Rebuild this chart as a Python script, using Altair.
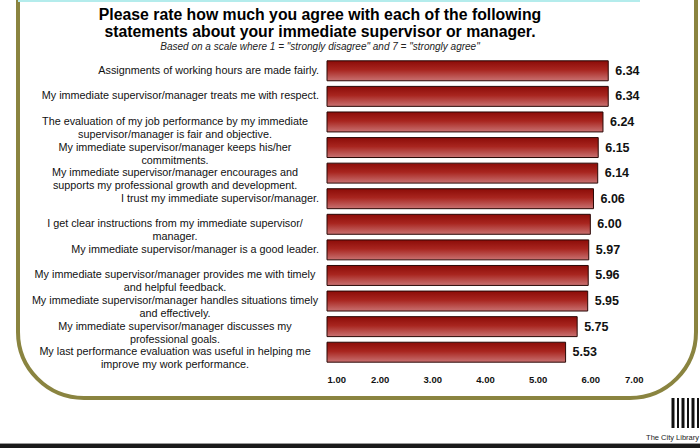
import altair as alt
import pandas as pd

labels = [
    "Assignments of working hours are made fairly.",
    "My immediate supervisor/manager treats me with respect.",
    "The evaluation of my job performance by my immediate|supervisor/manager is fair and objective.",
    "My immediate supervisor/manager keeps his/her|commitments.",
    "My immediate supervisor/manager encourages and|supports my professional growth and development.",
    "I trust my immediate supervisor/manager.",
    "I get clear instructions from my immediate supervisor/|manager.",
    "My immediate supervisor/manager is a good leader.",
    "My immediate supervisor/manager provides me with timely|and helpful feedback.",
    "My immediate supervisor/manager handles situations timely|and effectively.",
    "My immediate supervisor/manager discusses my|professional goals.",
    "My last performance evaluation was useful in helping me|improve my work performance.",
]
values = [6.34, 6.34, 6.24, 6.15, 6.14, 6.06, 6.00, 5.97, 5.96, 5.95, 5.75, 5.53]
tick_values = [1, 2, 3, 4, 5, 6, 7]

title_lines = [
    "Please rate how much you agree with each of the following",
    "statements about your immediate supervisor or manager.",
]
subtitle = 'Based on a scale where 1 = "strongly disagree" and 7 = "strongly agree"'
logo_text = "The City Library"

df = pd.DataFrame({"label": labels, "value": values})
df["multi"] = df["label"].str.contains("|", regex=False)
one = pd.DataFrame({"a": [0]})

FONT = "Liberation Sans"
OLIVE = "#8a8440"

yenc = alt.Y("label:N", sort=labels, axis=None,
             scale=alt.Scale(paddingInner=0.22, paddingOuter=0.11))
xscale = alt.Scale(domain=[1, 7], nice=False, zero=False)

grad = alt.LinearGradient(
    gradient="linear", x1=0, y1=0, x2=0, y2=1,
    stops=[alt.GradientStop(color="#8c0c08", offset=0),
           alt.GradientStop(color="#a8251f", offset=0.45),
           alt.GradientStop(color="#c97272", offset=1)],
)

base = alt.Chart(df)

bars = base.mark_bar(color=grad, stroke="#2a0806", strokeWidth=1).encode(
    x=alt.X("value:Q", scale=xscale,
            axis=alt.Axis(values=tick_values, format=".2f", grid=False, ticks=False,
                          domain=False, labelFont=FONT, labelFontSize=9.5,
                          labelFontWeight="bold", labelColor="#111",
                          labelPadding=9, title=None)),
    x2=alt.datum(1),
    y=yenc,
)

vals = base.mark_text(align="left", baseline="middle", dx=7, font=FONT,
                      fontSize=12.5, fontWeight="bold", color="#111").encode(
    x=alt.X("value:Q", scale=xscale), y=yenc, text=alt.Text("value:Q", format=".2f"))

single = base.transform_filter("!datum.multi").mark_text(
    align="right", baseline="middle", font=FONT, fontSize=10.8, color="#111"
).encode(x=alt.value(-8), y=yenc, text="label:N")

multi = base.transform_filter("datum.multi").mark_text(
    align="center", baseline="middle", font=FONT, fontSize=10.8, color="#111",
    lineBreak="|", lineHeight=13
).encode(x=alt.value(-152), y=yenc, text="label:N")

oc = alt.Chart(one)
t1 = oc.mark_text(text=title_lines[0], font=FONT, fontSize=15.8, fontWeight="bold",
                  align="center", baseline="middle", color="#000").encode(
    x=alt.value(-7), y=alt.value(-43))
t2 = oc.mark_text(text=title_lines[1], font=FONT, fontSize=15.8, fontWeight="bold",
                  align="center", baseline="middle", color="#000").encode(
    x=alt.value(-7), y=alt.value(-26))
t3 = oc.mark_text(text=subtitle, font=FONT, fontSize=10, fontStyle="italic",
                  align="center", baseline="middle", color="#222").encode(
    x=alt.value(-7), y=alt.value(-11))

border = oc.mark_rect(fillOpacity=0, stroke=OLIVE, strokeWidth=4, cornerRadius=66).encode(
    x=alt.value(-309), x2=alt.value(369), y=alt.value(-200), y2=alt.value(340))
cyan = oc.mark_rule(color="#b4ecec", strokeWidth=2).encode(
    x=alt.value(-309), x2=alt.value(313), y=alt.value(-57))
bottom = oc.mark_rule(color="#1a1a1a", strokeWidth=4).encode(
    x=alt.value(-327), x2=alt.value(373), y=alt.value(388))
bottom2 = oc.mark_rule(color="#9a9a9a", strokeWidth=1).encode(
    x=alt.value(-327), x2=alt.value(373), y=alt.value(385.5))

logo_x = [346, 351, 356, 361, 366, 371]
logo_w = [3, 2, 3, 2, 3, 2]
logo_layers = []
for lx, lw in zip(logo_x, logo_w):
    logo_layers.append(oc.mark_rule(color="#111", strokeWidth=lw).encode(
        x=alt.value(lx), y=alt.value(340), y2=alt.value(370)))
logo_t = oc.mark_text(text=logo_text, font=FONT, fontSize=7.5, align="right",
                      baseline="middle", color="#222").encode(
    x=alt.value(372), y=alt.value(380))

chart = alt.layer(border, cyan, bottom2, bottom, *logo_layers, logo_t,
                  bars, vals, single, multi, t1, t2, t3).properties(
    width=316, height=307,
    autosize=alt.AutoSizeParams(type="none"),
    padding={"left": 327, "top": 58, "right": 57, "bottom": 83},
    background="white",
).configure_view(stroke=None)

chart.save("out.html", embed_options={"renderer": "svg", "actions": False})
